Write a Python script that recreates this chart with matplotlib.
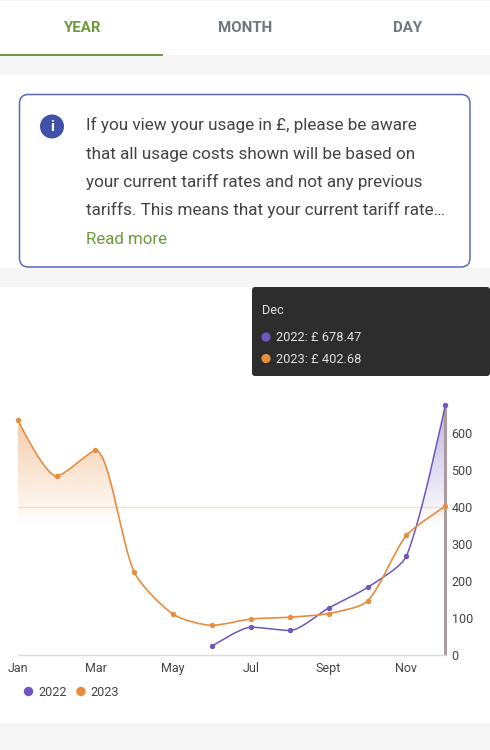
import matplotlib
matplotlib.use('Agg')
import matplotlib.pyplot as plt
import numpy as np
from matplotlib.patches import FancyBboxPatch, Rectangle, Circle, PathPatch
from matplotlib.path import Path
from matplotlib.transforms import ScaledTranslation

plt.rcParams['font.family'] = ['Roboto', 'DejaVu Sans']

# Data
months = ['Jan', 'Feb', 'Mar', 'Apr', 'May', 'Jun', 'Jul', 'Aug', 'Sept', 'Oct', 'Nov', 'Dec']
month_ticks = ['Jan', 'Mar', 'May', 'Jul', 'Sept', 'Nov']
y_ticks = [0, 100, 200, 300, 400, 500, 600]
values_2022 = [None, None, None, None, None, 23, 75, 66, 127, 183, 268, 678.47]
values_2023 = [638, 485, 555, 224, 110, 80, 97, 102, 112, 146, 324, 402.68]
mark_value = 400
tabs = ['YEAR', 'MONTH', 'DAY']
notice_lines = ['If you view your usage in £, please be aware',
                'that all usage costs shown will be based on',
                'your current tariff rates and not any previous',
                'tariffs. This means that your current tariff rate…']

PURPLE = '#6f55bd'
ORANGE = '#e88c3f'
GREEN = '#6f9a3c'
W, H = 490, 750

fig = plt.figure(figsize=(W / 100, H / 100), dpi=100, facecolor='white')

# Page chrome drawn in pixel coordinates
page = fig.add_axes([0, 0, 1, 1])
page.set_xlim(0, W)
page.set_ylim(H, 0)
page.axis('off')

for y0, y1 in [(0, 1), (55, 75), (268, 287), (723, 750)]:
    page.add_patch(Rectangle((0, y0), W, y1 - y0, fc='#f6f6f6', ec='none'))
page.add_patch(Rectangle((0, 53.5), 163, 2, fc=GREEN, ec='none'))

for name, cx, col in zip(tabs, [81.5, 245, 408], [GREEN, '#6d7780', '#6d7780']):
    page.text(cx, 32.5, name, color=col, fontsize=10.8, fontweight='bold',
              ha='center', va='baseline')

page.add_patch(FancyBboxPatch((19.5, 94.5), 450.5, 172.5, boxstyle='round,pad=0,rounding_size=9',
                              fc='white', ec='#5b69b8', lw=1.1))
page.add_patch(Circle((52, 126.5), 12, fc='#3f51a8', ec='none'))
page.text(52, 127, 'i', color='white', fontsize=11, fontweight='bold', ha='center', va='center')

for y, line in zip([130, 158.5, 186.7, 215], notice_lines):
    page.text(86, y, line, color='#444444', fontsize=12.35, ha='left', va='baseline')
page.text(86, 244, 'Read more', color=GREEN, fontsize=12.2, ha='left', va='baseline')

# Tooltip
page.add_patch(FancyBboxPatch((252, 287), 238, 89, boxstyle='round,pad=0,rounding_size=3',
                              fc='#2d2d2d', ec='none', zorder=5))
page.text(261.5, 314.5, 'Dec', color='#e0e0e0', fontsize=9.2, va='baseline', zorder=6)
for y, col, name, val in [(337, PURPLE, '2022', values_2022[-1]), (358.5, ORANGE, '2023', values_2023[-1])]:
    page.add_patch(Circle((266, y), 4.6, fc=col, ec='none', zorder=6))
    page.text(275.5, y + 4.3, f'{name}: £ {val:.2f}', color='#e0e0e0', fontsize=9.3, va='baseline', zorder=6)

# Legend
for x, col, name in [(28.5, PURPLE, '2022'), (81, ORANGE, '2023')]:
    page.add_patch(Circle((x, 691.5), 4.7, fc=col, ec='none'))
    page.text(x + 9.5, 696, name, color='#444444', fontsize=9.1, va='baseline')

# Chart axes: x 18-445 px, y 654.8 (zero) up to 404.8
ax = fig.add_axes([17.7 / W, 1 - 654.8 / H, (445.3 - 17.7) / W, 250 / H])
ax.patch.set_alpha(0)
px_per_x = 427.6 / 11
px_per_y = 0.3685
y_top = 250 / px_per_y


def smooth_path(xs, ys, smooth=0.25):
    # bezier with the same scheme as echarts smooth lines, worked out in pixel space
    pts = np.column_stack([np.asarray(xs, float) * px_per_x, np.asarray(ys, float) * px_per_y])
    n = len(pts)
    out_cp = pts.copy()
    in_cp = pts.copy()
    for i in range(1, n - 1):
        p, prev, nxt = pts[i], pts[i - 1], pts[i + 1]
        v = nxt - prev
        len_prev = np.hypot(*(p - prev))
        len_next = np.hypot(*(nxt - p))
        ratio = len_next / (len_prev + len_next)
        c_next = p + v * smooth * ratio
        c_next[1] = np.clip(c_next[1], min(p[1], nxt[1]), max(p[1], nxt[1]))
        v = c_next - p
        c_prev = p - v * len_prev / len_next
        if not min(p[1], prev[1]) <= c_prev[1] <= max(p[1], prev[1]):
            c_prev[1] = np.clip(c_prev[1], min(p[1], prev[1]), max(p[1], prev[1]))
            v = p - c_prev
            c_next = p + v * len_next / len_prev
        out_cp[i] = c_next
        in_cp[i] = c_prev
    verts = [pts[0]]
    codes = [Path.MOVETO]
    for i in range(n - 1):
        verts += [out_cp[i], in_cp[i + 1], pts[i + 1]]
        codes += [Path.CURVE4] * 3
    verts = np.array(verts) / [px_per_x, px_per_y]
    return Path(verts, codes)


def area_gradient(xs, ys, path, col):
    # fill under the line, fading out at the same height for both series
    vs = path.vertices
    area = Path(np.vstack([vs, [(xs[-1], 0), (xs[0], 0), vs[0]]]),
                list(path.codes) + [Path.LINETO, Path.LINETO, Path.LINETO])
    rgb = matplotlib.colors.to_rgb(col)
    top, bottom = max(ys), 350
    grad = np.zeros((200, 2, 4))
    grad[..., :3] = rgb
    grad[..., 3] = np.linspace(0.45, 0, 200)[:, None]
    im = ax.imshow(grad, extent=[xs[0], xs[-1], bottom, top], origin='upper',
                   aspect='auto', zorder=1)
    im.set_clip_path(PathPatch(area, transform=ax.transData))


x_all = np.arange(len(months))
x_2022 = [x for x, v in zip(x_all, values_2022) if v is not None]
y_2022 = [v for v in values_2022 if v is not None]

path_2022 = smooth_path(x_2022, y_2022)
path_2023 = smooth_path(x_all, values_2023)
area_gradient(x_2022, y_2022, path_2022, PURPLE)
area_gradient(x_all, values_2023, path_2023, ORANGE)
ax.set_xlim(0, 11)
ax.set_ylim(0, y_top)

ax.axhline(mark_value, color='#f8dcc0', lw=1, zorder=2)
ax.plot([11, 11], [0, values_2022[-1]], color='#a89c9f', lw=2.2, zorder=2,
        solid_capstyle='butt', clip_on=False)

ax.add_patch(PathPatch(path_2022, fc='none', ec=PURPLE, lw=1.1, zorder=3, clip_on=False))
ax.add_patch(PathPatch(path_2023, fc='none', ec=ORANGE, lw=1.2, zorder=3, clip_on=False))
ax.scatter(x_2022, y_2022, s=15, color=PURPLE, zorder=4, clip_on=False, linewidths=0)
ax.scatter(x_all, values_2023, s=15, color=ORANGE, zorder=4, clip_on=False, linewidths=0)

for s in ['top', 'left', 'right']:
    ax.spines[s].set_visible(False)
ax.spines['bottom'].set_color('#d9d9d9')
ax.spines['bottom'].set_linewidth(1)
ax.set_xticks(x_all[::2])
ax.set_xticklabels(month_ticks)
ax.yaxis.tick_right()
ax.set_yticks(y_ticks)
ax.tick_params(axis='both', length=0, labelsize=9, labelcolor='#444444')
ax.tick_params(axis='x', pad=5.2)
ax.tick_params(axis='y', pad=4.5)
# nudge the value labels down a little
nudge = ScaledTranslation(0, -1.3 / 100, fig.dpi_scale_trans)
for t in ax.get_yticklabels():
    t.set_va('center')
    t.set_transform(t.get_transform() + nudge)

plt.savefig('out.png', dpi=100)
